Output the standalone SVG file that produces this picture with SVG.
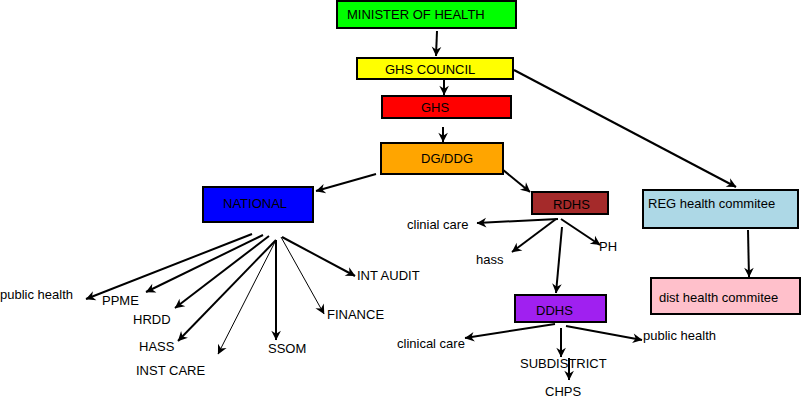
<svg xmlns="http://www.w3.org/2000/svg" width="801" height="402" viewBox="0 0 801 402">
<style>
rect{stroke:#000;stroke-width:2}
text{font-family:"Liberation Sans",Arial,sans-serif;font-size:13px;fill:#000}
.c line{stroke:#000;stroke-width:2;marker-end:url(#a)}
.c line.t{stroke-width:1}
</style>
<defs><marker id="a" viewBox="0 0 10 10" refX="9" refY="5" markerWidth="6" markerHeight="6" markerUnits="userSpaceOnUse" orient="auto" style="overflow:visible"><path d="M0,0L10,5L0,10L3,5z" fill="#000" transform="scale(1.6) translate(-4,-2)"/></marker></defs>
<rect width="801" height="402" fill="#fff" style="stroke:none"/>
<g class="c">
<line x1="437" y1="31" x2="436" y2="56"/>
<line x1="444" y1="80" x2="444" y2="95"/>
<line x1="443" y1="127" x2="443" y2="142"/>
<line x1="514" y1="70" x2="736" y2="187"/>
<line x1="376" y1="174" x2="316" y2="191"/>
<line x1="497" y1="165" x2="530" y2="192"/>
<line x1="748" y1="230" x2="749" y2="277"/>
<line x1="558" y1="219" x2="477" y2="223"/>
<line x1="556" y1="219" x2="512" y2="252"/>
<line x1="561" y1="219" x2="600" y2="245"/>
<line x1="562" y1="227" x2="556" y2="293"/>
<line x1="555" y1="324" x2="465" y2="338"/>
<line x1="566" y1="326" x2="642" y2="340"/>
<line x1="561" y1="328" x2="561" y2="357"/>
<line x1="569" y1="358" x2="569" y2="380"/>
<line x1="252" y1="234" x2="86" y2="299"/>
<line x1="263" y1="235" x2="146" y2="292"/>
<line x1="269" y1="236" x2="175" y2="308"/>
<line x1="276" y1="240" x2="178" y2="341"/>
<line class="t" x1="276" y1="240" x2="218" y2="354"/>
<line x1="276" y1="240" x2="276" y2="340"/>
<line class="t" x1="281" y1="237" x2="324" y2="314"/>
<line x1="282" y1="237" x2="355" y2="276"/>
</g>
<g id="moh"><rect x="337" y="1" width="179" height="27" fill="#00ff00"/><text x="347" y="19">MINISTER OF HEALTH</text></g>
<g id="council"><rect x="357" y="58" width="156" height="21" fill="#ffff00"/><text x="385" y="74">GHS COUNCIL</text></g>
<g id="ghs"><rect x="382" y="96" width="129" height="22" fill="#ff0000"/><text x="421" y="112">GHS</text></g>
<g id="dg"><rect x="381" y="143" width="122" height="31" fill="#ffa500"/><text x="421" y="163">DG/DDG</text></g>
<g id="national"><rect x="203" y="187" width="110" height="35" fill="#0000ff"/><text x="223" y="208">NATIONAL</text></g>
<g id="rdhs"><rect x="532" y="192" width="76" height="22" fill="#a52a2a"/><text x="553" y="209">RDHS</text></g>
<g id="reg"><rect x="643" y="190" width="155" height="38" fill="#add8e6"/><text x="648" y="208">REG health commitee</text></g>
<g id="ddhs"><rect x="515" y="295" width="91" height="27" fill="#a020f0"/><text x="536" y="315">DDHS</text></g>
<g id="dist"><rect x="651" y="278" width="149" height="36" fill="#ffc0cb"/><text x="659" y="302">dist health commitee</text></g>
<g id="labels">
<text x="0" y="299">public health</text>
<text x="102" y="305">PPME</text>
<text x="133" y="324">HRDD</text>
<text x="139" y="351">HASS</text>
<text x="136" y="375">INST CARE</text>
<text x="268" y="353">SSOM</text>
<text x="327" y="319">FINANCE</text>
<text x="357" y="280">INT AUDIT</text>
<text x="407" y="229">clinial care</text>
<text x="476" y="264">hass</text>
<text x="599" y="251">PH</text>
<text x="397" y="348">clinical care</text>
<text x="643" y="340">public health</text>
<text x="520" y="368">SUBDISTRICT</text>
<text x="545" y="396">CHPS</text>
</g>
</svg>
